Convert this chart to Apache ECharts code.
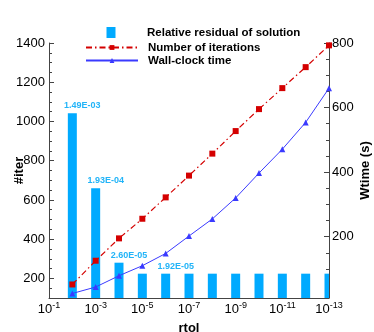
<!DOCTYPE html>
<html>
<head>
<meta charset="utf-8">
<style>
  html, body { margin: 0; padding: 0; background: #fff; }
  #chart { width: 374px; height: 332px; }
</style>
<script src="https://cdn.jsdelivr.net/npm/echarts@6/dist/echarts.min.js"></script>
</head>
<body>
<div id="chart"></div>
<script>
// ── Data ──
const rtol = [1e-2, 1e-3, 1e-4, 1e-5, 1e-6, 1e-7, 1e-8, 1e-9, 1e-10, 1e-11, 1e-12, 1e-13];
const residualBar = [1042, 659, 280, 224, 224, 224, 224, 224, 224, 224, 224, 224];
const residualText = ['1.49E-03', '1.93E-04', '2.60E-05', '', '1.92E-05', '', '', '', '', '', '', ''];
const iterations = [169, 290, 404, 504, 613, 724, 836, 951, 1063, 1170, 1277, 1388];
const wallTime = [24, 44, 79, 110, 148, 202, 255, 320, 397, 471, 554, 660];

const xLabels = [1e-1, 1e-3, 1e-5, 1e-7, 1e-9, 1e-11, 1e-13];
const iterLabels = [200, 400, 600, 800, 1000, 1200, 1400];
const iterMinor = [150, 250, 300, 350, 450, 500, 550, 650, 700, 750, 850, 900, 950,
  1050, 1100, 1150, 1250, 1300, 1350];
const timeLabels = [200, 400, 600, 800];
const timeMinor = [50, 100, 150, 250, 300, 350, 450, 500, 550, 650, 700, 750];

const FONT = '"Liberation Sans", Arial, sans-serif';
const AXIS = '#444';
const BAR = '#00aaff';
const BAR_LABEL = '#22b4f8';
const RED = '#d40000';
const BLUE = '#3a3aff';

const chart = echarts.init(document.getElementById('chart'));

// hidden twin axis that only carries the short minor ticks
function minorAxis(position, min, max, values) {
  return {
    type: 'value', position, min, max,
    axisLine: { show: false },
    axisLabel: { show: false },
    splitLine: { show: false },
    axisTick: { show: true, inside: true, length: 3, customValues: values,
      lineStyle: { color: AXIS } },
  };
}

// bars on a log axis: custom series so the last one is cut at the grid edge
function renderBar(params, api) {
  const x = api.value(0);
  const top = api.coord([x, api.value(1)]);
  const cs = params.coordSys;
  const bottom = cs.y + cs.height;
  const rect = echarts.graphic.clipRectByRect(
    { x: top[0] - 4.5, y: top[1], width: 9, height: bottom - top[1] },
    { x: cs.x, y: cs.y, width: cs.width, height: cs.height });
  const children = [];
  if (rect) children.push({ type: 'rect', shape: rect, style: { fill: BAR } });
  const txt = residualText[params.dataIndex];
  if (txt) {
    children.push({
      type: 'text',
      style: { text: txt, x: top[0] + 10, y: top[1] - 3, align: 'center', verticalAlign: 'bottom',
        font: 'bold 9px ' + FONT, fill: BAR_LABEL },
    });
  }
  return { type: 'group', children };
}

const legendText = { fontFamily: FONT, fontSize: 11.5, fontWeight: 'bold', color: '#000',
  padding: [0, 0, 0, 5] };

chart.setOption({
  animation: false,
  textStyle: { fontFamily: FONT },
  grid: { left: 49, right: 45, top: 43, bottom: 34, outerBoundsMode: 'none' },
  // two legends: the bar swatch wants a taller icon than the line markers
  legend: [
    {
      orient: 'vertical', left: 106.5, top: 26.5, padding: 0,
      itemWidth: 52, itemHeight: 11,
      textStyle: legendText,
      data: [{ name: 'Relative residual of solution', icon: 'path://M0,0h9v11h-9z' }],
    },
    {
      orient: 'vertical', left: 85, top: 41.5, padding: 0,
      itemWidth: 52, itemHeight: 6, itemGap: 1,
      textStyle: legendText,
      data: ['Number of iterations', 'Wall-clock time'],
    },
  ],
  xAxis: {
    type: 'log', logBase: 10, min: 1e-13, max: 1e-1, inverse: true,
    name: 'rtol', nameLocation: 'middle', nameGap: 24, nameMoveOverlap: false,
    nameTextStyle: { fontFamily: FONT, fontSize: 13, fontWeight: 'bold', color: '#000' },
    axisLine: { lineStyle: { color: AXIS } },
    axisTick: { inside: true, length: 4, customValues: xLabels, lineStyle: { color: AXIS } },
    splitLine: { show: false },
    axisLabel: {
      customValues: xLabels, margin: 3,
      formatter: v => '{b|10}{s|' + Math.round(Math.log10(v)) + '}',
      rich: {
        b: { fontFamily: FONT, fontSize: 13, color: '#000', lineHeight: 16 },
        s: { fontFamily: FONT, fontSize: 9, color: '#000', verticalAlign: 'top' },
      },
    },
  },
  yAxis: [
    {
      type: 'value', position: 'left', min: 100, max: 1400,
      name: '#iter', nameLocation: 'middle', nameGap: 23, nameRotate: 90, nameMoveOverlap: false,
      nameTextStyle: { fontFamily: FONT, fontSize: 13, fontWeight: 'bold', color: '#000' },
      axisLine: { show: true, lineStyle: { color: AXIS } },
      axisTick: { show: true, inside: true, length: 5, customValues: iterLabels,
        lineStyle: { color: AXIS } },
      axisLabel: { customValues: iterLabels, margin: 4, fontSize: 13, color: '#000',
        formatter: v => String(v) },
      splitLine: { show: false },
    },
    {
      type: 'value', position: 'right', min: 10, max: 800,
      name: 'Wtime (s)', nameLocation: 'middle', nameGap: 30, nameRotate: 90, nameMoveOverlap: false,
      nameTextStyle: { fontFamily: FONT, fontSize: 13, fontWeight: 'bold', color: '#000' },
      axisLine: { show: true, lineStyle: { color: AXIS } },
      axisTick: { show: true, inside: true, length: 5, customValues: timeLabels,
        lineStyle: { color: AXIS } },
      axisLabel: { customValues: timeLabels, margin: 3, fontSize: 13, color: '#000',
        formatter: v => String(v) },
      splitLine: { show: false },
    },
    minorAxis('left', 100, 1400, iterMinor),
    minorAxis('right', 10, 800, timeMinor),
  ],
  series: [
    {
      name: 'Relative residual of solution',
      type: 'custom', coordinateSystem: 'cartesian2d', xAxisIndex: 0, yAxisIndex: 0,
      itemStyle: { color: BAR },
      encode: { x: 0, y: 1 },
      renderItem: renderBar,
      data: rtol.map((x, i) => [x, residualBar[i]]),
    },
    {
      name: 'Number of iterations',
      type: 'line', yAxisIndex: 0,
      symbol: 'rect', symbolSize: 6,
      itemStyle: { color: RED },
      lineStyle: { color: RED, width: 1.2, type: [6, 3, 1.5, 3] },
      data: rtol.map((x, i) => [x, iterations[i]]),
      clip: false, z: 4,
    },
    {
      name: 'Wall-clock time',
      type: 'line', yAxisIndex: 1,
      symbol: 'triangle', symbolSize: 6,
      itemStyle: { color: BLUE },
      lineStyle: { color: BLUE, width: 1 },
      data: rtol.map((x, i) => [x, wallTime[i]]),
      clip: false, z: 4,
    },
  ],
});
</script>
</body>
</html>
